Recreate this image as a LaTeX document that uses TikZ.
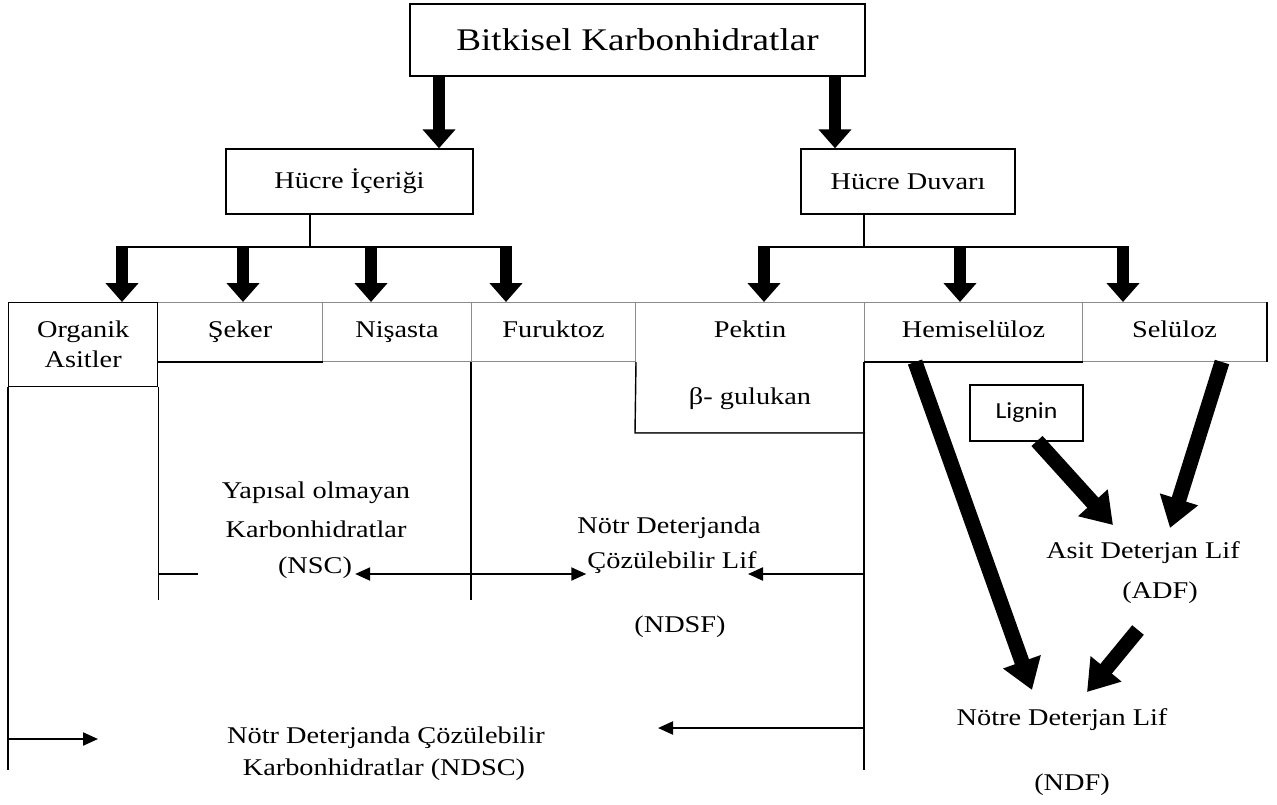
\documentclass[tikz,border=0pt]{standalone}
\usepackage{fontspec}
\setmainfont{Liberation Serif}[FakeStretch=1.18]
\newfontfamily\ligninfont{Carlito}[FakeStretch=1.12]
\usetikzlibrary{arrows.meta}

\tikzset{
    every node/.style={font=\fontsize{24}{29}\selectfont},
    kutu/.style={draw, line width=1.4pt, inner sep=0pt, align=center},
    satir/.style={draw=black!45, line width=1pt, inner sep=0pt, align=center, anchor=north west, minimum height=59pt, execute at begin node=\strut},
    tel/.style={line width=1.4pt},
    kalin/.style={line width=12pt, -{Triangle[width=32pt,length=19pt]}},
    capraz/.style={line width=15pt, -{Triangle[width=38pt,length=30pt]}},
    ince/.style={line width=2.2pt, -{Triangle[width=13pt,length=15pt]}}
}

\begin{document}
\begin{tikzpicture}[x=1pt, y=-1pt]
    \useasboundingbox (0,0) rectangle (1277,804);

    % ust kutular
    \node [kutu, minimum width=455pt, minimum height=72pt, font=\fontsize{31.5}{36}\selectfont] (bk) at (637.5,40) {Bitkisel Karbonhidratlar};
    \node [kutu, minimum width=247pt, minimum height=65pt] (hi) at (349.5,181.5) {Hücre İçeriği};
    \node [kutu, minimum width=214pt, minimum height=65pt] (hd) at (908,181.5) {Hücre Duvarı};

    % satir
    \node [satir, minimum width=165pt] (sk) at (157,302) {Şeker};
    \node [satir, minimum width=149pt] (ns) at (322,302) {Nişasta};
    \node [satir, minimum width=164pt] (fu) at (471,302) {Furuktoz};
    \node [satir, minimum width=229pt, minimum height=130pt] (pk) at (635,302) {Pektin\\[38pt]β- gulukan};
    \node [satir, minimum width=218pt] (hs) at (864,302) {Hemiselüloz};
    \node [satir, minimum width=184pt] (sl) at (1082,302) {Selüloz};
    \node [kutu, anchor=north west, minimum width=149pt, minimum height=84pt, font=\fontsize{24}{30}\selectfont] (org) at (8,302) {Organik\\Asitler};
    \node [draw, line width=1.2pt, minimum width=113pt, minimum height=56pt, font=\ligninfont\fontsize{23}{28}\selectfont] (lig) at (1026.5,413) {Lignin};

    % metinler
    \node (nsc1) at (316,493) {Yapısal olmayan};
    \node (nsc2) at (316,529) {Karbonhidratlar};
    \node [inner sep=3pt] (nsc3) at (315,568) {(NSC)};
    \node (ndsf1) at (669,528) {Nötr Deterjanda};
    \node [inner sep=1pt] (ndsf2) at (672,563) {Çözülebilir Lif};
    \node (ndsf3) at (680,627) {(NDSF)};
    \node (ndsc1) at (386,738) {Nötr Deterjanda Çözülebilir};
    \node (ndsc2) at (384,770) {Karbonhidratlar (NDSC)};
    \node (adf1) at (1143,553) {Asit Deterjan Lif};
    \node (adf2) at (1160,593) {(ADF)};
    \node (ndf1) at (1062,720) {Nötre Deterjan Lif};
    \node (ndf2) at (1072,785) {(NDF)};

    \coordinate (hiBus) at (310,247);
    \coordinate (hdBus) at (864,247);
    \coordinate (alt) at (0,770);
    \coordinate (ortaAlt) at (0,600);
    \coordinate (nsfY) at (0,574);
    \coordinate (ndsfUc) at (748,574);
    \coordinate (ndscSol) at (98,739);
    \coordinate (ndscSag) at (658,728);

    % siyah cizgiler
    \draw [tel] (sk.south west) -- (sk.south east);
    \draw [tel] (fu.south east) -- (pk.south west) -- (pk.south east);
    \draw [tel] (hs.south west) -- (hs.south east);
    \draw [tel] (sl.north east) -- (sl.south east);
    \draw [tel] (org.south west) -- (org.south west |- alt);
    \draw [tel] (org.south east) -- (org.south east |- ortaAlt);
    \draw [tel] (fu.south west) -- (fu.south west |- ortaAlt);
    \draw [tel] (hs.south west) -- (hs.south west |- alt);
    \draw [tel] (org.south east |- nsfY) -- +(40,0);

    % dallar
    \draw [tel] (hi.south -| hiBus) -- (hiBus);
    \draw [tel] (116,0 |- hiBus) -- (512,0 |- hiBus);
    \draw [tel] (hd.south -| hdBus) -- (hdBus);
    \draw [tel] (758,0 |- hdBus) -- (1129,0 |- hdBus);

    \draw [kalin] (439,0 |- bk.south) -- (439,0 |- hi.north);
    \draw [kalin] (835,0 |- bk.south) -- (835,0 |- hd.north);
    \foreach \ax/\hedef in {122/org, 243/sk, 371/ns, 506/fu}
        \draw [kalin] (\ax,0 |- hiBus) -- (\ax,0 |- \hedef.north);
    \foreach \ax/\hedef in {764/pk, 960/hs, 1123/sl}
        \draw [kalin] (\ax,0 |- hdBus) -- (\ax,0 |- \hedef.north);

    % ince oklar
    \draw [ince, {Triangle[width=13pt,length=15pt]}-{Triangle[width=13pt,length=15pt]}] (nsc3.east |- nsfY) -- (ndsf2.west |- nsfY);
    \draw [ince] (hs.south west |- nsfY) -- (ndsfUc);
    \draw [ince] (org.south west |- ndscSol) -- (ndscSol);
    \draw [ince] (hs.south west |- ndscSag) -- (ndscSag);

    % kalin capraz oklar
    \coordinate (hsCik) at (915,362);
    \coordinate (ndfUc1) at (1032,690);
    \coordinate (slCik) at (1222,362);
    \coordinate (adfUc1) at (1170,528);
    \coordinate (ligCik) at (1037,441);
    \coordinate (adfUc2) at (1113,525);
    \coordinate (adfCik) at (1138,630);
    \coordinate (ndfUc2) at (1087,692);
    \draw [capraz] (hsCik) -- (ndfUc1);
    \draw [capraz] (slCik) -- (adfUc1);
    \draw [capraz] (ligCik) -- (adfUc2);
    \draw [capraz] (adfCik) -- (ndfUc2);
\end{tikzpicture}
\end{document}
